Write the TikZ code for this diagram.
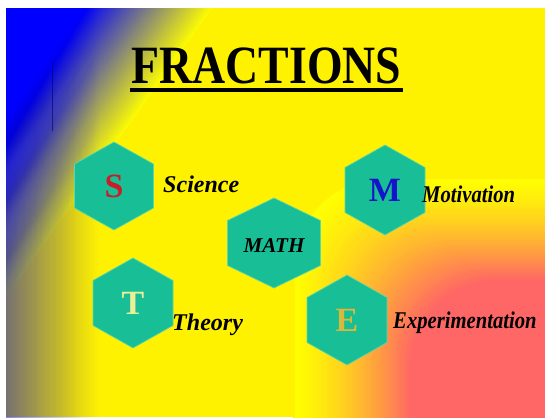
\documentclass[tikz,border=0pt]{standalone}
\usepackage{fontspec}
\setmainfont{Liberation Serif}
\definecolor{hexfill}{RGB}{24,190,150}
\definecolor{hexrim}{RGB}{95,215,165}
\definecolor{salmon}{RGB}{255,102,102}
\definecolor{sred}{RGB}{200,30,40}
\definecolor{mblue}{RGB}{20,20,200}
\definecolor{tpale}{RGB}{235,240,150}
\definecolor{egold}{RGB}{215,185,60}
\tikzset{
	hexa/.style={fill=hexfill, draw=hexrim, line width=0.6pt},
	bigletter/.style={font=\fontsize{29}{32}\selectfont\bfseries, inner sep=0pt},
	caption/.style={font=\fontsize{20.5}{24}\selectfont\bfseries\itshape, inner sep=0pt, anchor=base west},
}
\begin{document}
\begin{tikzpicture}[x=0.03cm, y=-0.03cm, line join=round, line cap=round]
			\useasboundingbox (0,0) rectangle (545,418);
			% Nền
			\begin{scope}
				\clip (6,8) rectangle (545,417);
				\fill[yellow] (6,8) rectangle (545,417);
				% Góc đỏ
				\foreach \k in {1,...,50}{
					\pgfmathsetmacro\px{290+120*\k/50}
					\pgfmathsetmacro\py{175+105*\k/50}
					\pgfmathtruncatemacro\pct{100*(\k/50)^1.4}
					\fill[salmon!\pct!yellow, rounded corners=75pt] (\px,\py) rectangle (640,500);
				}
				% Góc xanh
				\foreach \k in {1,...,50}{
					\pgfmathsetmacro\xt{215-130*\k/50}
					\pgfmathtruncatemacro\pct{100*\k/50}
					\fill[blue!\pct!yellow] (\xt+14.4,-12.2) -- (\xt-432,614) -- (-50,614) -- (-50,-12.2) -- cycle;
				}
				% Dải bên trái
				\foreach \k in {1,...,40}{
					\pgfmathsetmacro\sx{6+95*(1-\k/40)}
					\pgfmathsetmacro\op{1/(81-\k)}
					\fill[blue, opacity=\op] (0,0) rectangle (\sx,430);
				}
			\end{scope}
			\draw[blue!40!black, opacity=0.6, line width=0.8pt] (52.5,62) -- (52.5,131);
			
			% Tiêu đề
			\node[font=\fontsize{46}{50}\selectfont\bfseries, inner sep=0pt, anchor=base] (title) at (266.5,83) {\scalebox{0.85}[1]{FRACTIONS}};
			\coordinate (ulL) at (130,90);
			\coordinate (ulR) at (403,90);
			\draw[line width=2.6pt, line cap=butt] (ulL) -- (ulR);
			
			% Các lục giác
			\foreach \n/\cx/\cy/\w/\h in {S/114/186/79/88, M/385/190/80/90, A/274/243/93/90, T/133/303/80/90, E/347/320/80/90}{
				\path[hexa] (\cx,\cy-\h/2) -- (\cx+\w/2,\cy-\h/4) -- (\cx+\w/2,\cy+\h/4) -- (\cx,\cy+\h/2) -- (\cx-\w/2,\cy+\h/4) -- (\cx-\w/2,\cy-\h/4) -- cycle;
				\coordinate (h\n) at (\cx,\cy);
			}
			
			% Các chữ cái
			\node[bigletter, text=sred] (S) at (hS) {S};
			\node[bigletter, text=mblue] (M) at (hM) {M};
			\node[bigletter, text=tpale] (T) at (hT) {T};
			\node[bigletter, text=egold] (E) at (hE) {E};
			\node[font=\fontsize{18}{20}\selectfont\bfseries\itshape, inner sep=0pt] (math) at ([yshift=-2]hA) {MATH};
			
			% Các nhãn
			\node[caption] (science) at (163,192) {Science};
			\node[caption] (motivation) at (422,202) {\scalebox{0.86}[1]{Motivation}};
			\node[caption] (theory) at (172,330) {Theory};
			\node[caption] (experiment) at (393,328) {\scalebox{0.86}[1]{Experimentation}};
	\end{tikzpicture}
\end{document}
